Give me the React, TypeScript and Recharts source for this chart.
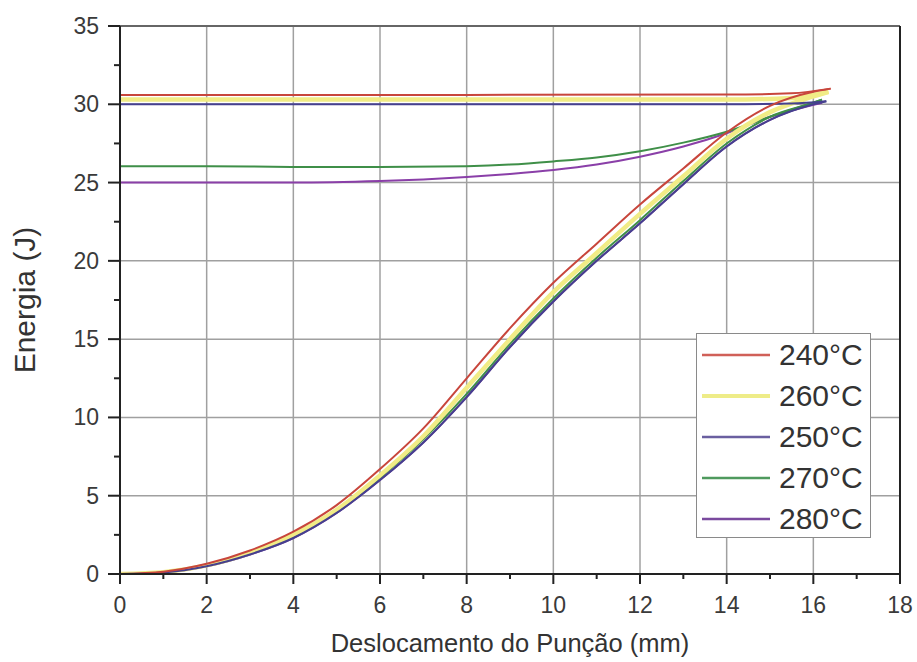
import React from 'react';
import { LineChart, Line, XAxis, YAxis, ReferenceLine, Legend } from 'recharts';

type Pt = [number, number];

// ramo de subida (carregamento) de cada temperatura
const rise240: Pt[] = [[0, 0], [1, 0.15], [2, 0.65], [3, 1.5], [4, 2.7], [5, 4.4], [6, 6.7], [7, 9.3], [8, 12.5], [9, 15.7], [10, 18.6], [11, 21.1], [12, 23.6], [13, 25.9], [14, 28.2], [15, 29.9], [16, 30.8], [16.4, 31.0]];
const rise260: Pt[] = [[0, 0], [1, 0.12], [2, 0.55], [3, 1.35], [4, 2.5], [5, 4.1], [6, 6.3], [7, 8.8], [8, 11.9], [9, 15.0], [10, 18.0], [11, 20.5], [12, 23.0], [13, 25.4], [14, 27.8], [15, 29.5], [16, 30.5], [16.35, 30.8]];
const rise250: Pt[] = [[0, 0], [1, 0.1], [2, 0.5], [3, 1.25], [4, 2.3], [5, 3.9], [6, 6.0], [7, 8.4], [8, 11.3], [9, 14.5], [10, 17.4], [11, 20.0], [12, 22.4], [13, 24.9], [14, 27.3], [15, 29.0], [16, 30.0], [16.3, 30.2]];
const rise270: Pt[] = [[0, 0], [1, 0.1], [2, 0.55], [3, 1.3], [4, 2.4], [5, 4.0], [6, 6.15], [7, 8.6], [8, 11.5], [9, 14.7], [10, 17.6], [11, 20.2], [12, 22.6], [13, 25.1], [14, 27.5], [15, 29.2], [16, 30.1], [16.2, 30.3]];
const rise280: Pt[] = [[0, 0], [1, 0.1], [2, 0.5], [3, 1.25], [4, 2.3], [5, 3.9], [6, 6.0], [7, 8.4], [8, 11.3], [9, 14.5], [10, 17.4], [11, 20.0], [12, 22.4], [13, 24.9], [14, 27.3], [15, 29.0], [16, 30.0], [16.2, 30.1]];

// ramo de retorno, de x = 0 até a ponta
const back240: Pt[] = [[0, 30.6], [8, 30.6], [14, 30.62], [15.5, 30.7], [16.4, 31.0]];
const back260: Pt[] = [[0, 30.3], [8, 30.3], [14, 30.3], [15.5, 30.4], [16.35, 30.8]];
const back250: Pt[] = [[0, 30.0], [8, 30.0], [14, 30.0], [15.5, 30.05], [16.3, 30.2]];
const back270: Pt[] = [[0, 26.05], [2, 26.05], [4, 26.0], [6, 26.0], [8, 26.05], [9, 26.15], [10, 26.35], [11, 26.6], [12, 27.0], [13, 27.55], [14, 28.25], [15, 29.2], [16.2, 30.3]];
const back280: Pt[] = [[0, 25.0], [2, 25.0], [4, 25.0], [6, 25.1], [7, 25.2], [8, 25.35], [9, 25.55], [10, 25.8], [11, 26.15], [12, 26.65], [13, 27.3], [14, 28.15], [15, 29.2], [16.2, 30.1]];

const xMajor = [0, 2, 4, 6, 8, 10, 12, 14, 16, 18];
const xMinor = [1, 3, 5, 7, 9, 11, 13, 15, 17];
const yMajor = [0, 5, 10, 15, 20, 25, 30, 35];
const yMinor = [2.5, 7.5, 12.5, 17.5, 22.5, 27.5, 32.5];

const legendOrder = ['240°C', '260°C', '250°C', '270°C', '280°C'];

const toRows = (pts: Pt[]) => pts.map(([x, y]) => ({ x, y }));

// ordem de desenho: vermelho por cima
const series = [
  { name: '280°C', color: '#8a3fa8', width: 2, rise: rise280, back: back280 },
  { name: '270°C', color: '#3f8f48', width: 2, rise: rise270, back: back270 },
  { name: '260°C', color: '#f1ec86', width: 4.5, rise: rise260, back: back260 },
  { name: '250°C', color: '#45408f', width: 2, rise: rise250, back: back250 },
  { name: '240°C', color: '#c8463c', width: 2, rise: rise240, back: back240 },
];

const legendColors: Record<string, string> = {
  '240°C': '#d06058',
  '260°C': '#eeec88',
  '250°C': '#6a5fa0',
  '270°C': '#4f9a5e',
  '280°C': '#7a4a9e',
};

const font = '"Liberation Sans", Arial, sans-serif';

const XTick = (props: any) => {
  const { x, y, payload } = props;
  const major = xMajor.includes(payload.value);
  return (
    <g>
      <line x1={x} x2={x} y1={y} y2={y + (major ? 10 : 5)} stroke="#222" strokeWidth={2} />
      {major && (
        <text x={x} y={y + 39} textAnchor="middle" fontSize={23} fill="#3a3a3a" fontFamily={font}>
          {payload.value}
        </text>
      )}
    </g>
  );
};

const YTick = (props: any) => {
  const { x, y, payload } = props;
  const major = yMajor.includes(payload.value);
  return (
    <g>
      <line x1={x - (major ? 12 : 6)} x2={x} y1={y} y2={y} stroke="#222" strokeWidth={2} />
      {major && (
        <text x={x - 21} y={y + 8} textAnchor="end" fontSize={23} fill="#3a3a3a" fontFamily={font}>
          {payload.value}
        </text>
      )}
    </g>
  );
};

const LegendBox = () => (
  <div
    style={{
      width: 175,
      height: 205,
      border: '1px solid #8a8a8a',
      background: '#fff',
      boxSizing: 'border-box',
      fontFamily: font,
    }}
  >
    {legendOrder.map((name) => (
      <div key={name} style={{ display: 'flex', alignItems: 'center', height: 41 }}>
        <svg width={82} height={10} style={{ flex: 'none' }}>
          <line x1={5} x2={73} y1={5} y2={5} stroke={legendColors[name]} strokeWidth={name === '260°C' ? 4 : 2.5} />
        </svg>
        <span style={{ fontSize: 30, color: '#333', lineHeight: '30px' }}>{name}</span>
      </div>
    ))}
  </div>
);

export default function App() {
  return (
    <div style={{ position: 'absolute', left: 0, top: 0, background: '#fff' }}>
      <LineChart width={917} height={662} margin={{ top: 26, right: 17, left: 0, bottom: 0 }}>
        <XAxis
          type="number"
          dataKey="x"
          domain={[0, 18]}
          ticks={[...xMajor, ...xMinor].sort((a, b) => a - b)}
          interval={0}
          tickSize={0}
          tickMargin={0}
          tickLine={false}
          tick={<XTick />}
          axisLine={{ stroke: '#222', strokeWidth: 2 }}
          height={88}
          allowDataOverflow
          label={{
            value: 'Deslocamento do Punção (mm)',
            position: 'insideBottom',
            offset: 10,
            fontSize: 25.5,
            fill: '#333',
            fontFamily: font,
          }}
        />
        <YAxis
          type="number"
          domain={[0, 35]}
          ticks={[...yMajor, ...yMinor].sort((a, b) => a - b)}
          interval={0}
          tickSize={0}
          tickMargin={0}
          tickLine={false}
          tick={<YTick />}
          axisLine={{ stroke: '#222', strokeWidth: 2 }}
          width={120}
          allowDataOverflow
          label={{
            value: 'Energia (J)',
            angle: -90,
            position: 'insideLeft',
            offset: 24,
            fontSize: 30,
            fill: '#333',
            fontFamily: font,
            style: { textAnchor: 'middle' },
          }}
        />
        {xMajor.slice(1, -1).map((v) => (
          <ReferenceLine key={`gx${v}`} x={v} stroke="#a0a0a0" strokeWidth={1.5} />
        ))}
        {yMajor.slice(1, -1).map((v) => (
          <ReferenceLine key={`gy${v}`} y={v} stroke="#a0a0a0" strokeWidth={1.5} />
        ))}
        <ReferenceLine y={35} stroke="#666" strokeWidth={2} />
        <ReferenceLine x={18} stroke="#222" strokeWidth={2} />
        {series.flatMap((s) =>
          [
            { key: 'back', pts: s.back },
            { key: 'rise', pts: s.rise },
          ].map((b) => (
            <Line
              key={`${s.name}-${b.key}`}
              name={s.name}
              data={toRows(b.pts)}
              dataKey="y"
              type="monotone"
              stroke={s.color}
              strokeWidth={s.width}
              dot={false}
              activeDot={false}
              legendType="none"
              isAnimationActive={false}
            />
          )),
        )}
        <Legend
          layout="vertical"
          align="center"
          verticalAlign="middle"
          content={() => <LegendBox />}
          wrapperStyle={{ left: 696, top: 333, width: 175, height: 205, right: 'auto', bottom: 'auto' }}
        />
      </LineChart>
    </div>
  );
}
